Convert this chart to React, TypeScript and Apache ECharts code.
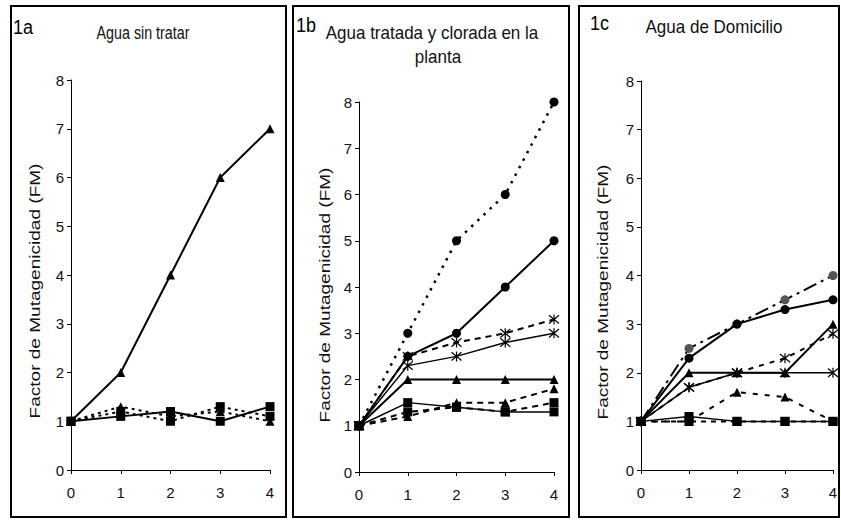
import React, { useEffect, useRef } from "react";
import * as echarts from "echarts";

// x categories (time points)
const X = [0, 1, 2, 3, 4];
const Y_TICKS = [0, 1, 2, 3, 4, 5, 6, 7, 8];

// Panel 1a: Agua sin tratar
const a_triSolid = [1, 2, 4, 6, 7];
const a_sqSolid = [1, 1.1, 1.2, 1.0, 1.3];
const a_sqDashed = [1, 1.2, 1.0, 1.3, 1.1];
const a_triDashed = [1, 1.3, 1.1, 1.2, 1.0];

// Panel 1b: Agua tratada y clorada en la planta
const b_circDotted = [1, 3, 5, 6, 8];
const b_circSolid = [1, 2.5, 3, 4, 5];
const b_astDashed = [1, 2.5, 2.8, 3.0, 3.3];
const b_astSolid = [1, 2.3, 2.5, 2.8, 3.0];
const b_triSolid = [1, 2, 2, 2, 2];
const b_triDashed = [1, 1.2, 1.5, 1.5, 1.8];
const b_sqSolid = [1, 1.5, 1.4, 1.3, 1.3];
const b_sqDashed = [1, 1.3, 1.4, 1.3, 1.5];

// Panel 1c: Agua de Domicilio
const c_circDashDot = [1, 2.5, 3, 3.5, 4];
const c_circSolid = [1, 2.3, 3, 3.3, 3.5];
const c_triSolid = [1, 2, 2, 2, 3];
const c_astSolid = [1, 1.7, 2, 2, 2];
const c_astDashed = [1, 1.7, 2, 2.3, 2.8];
const c_triDashed = [1, 1.0, 1.6, 1.5, 1.0];
const c_sqSolid = [1, 1.1, 1.0, 1.0, 1.0];
const c_sqDashed = [1, 1.0, 1.0, 1.0, 1.0];

const PANEL_LABELS = ["1a", "1b", "1c"];
const TITLES = ["Agua sin tratar", "Agua tratada y clorada en la", "planta", "Agua de Domicilio"];
const Y_NAME = "Factor de Mutagenicidad (FM)";

const FONT = "Arial, 'Liberation Sans', Helvetica, sans-serif";
const AST = "path://M0,0L10,10M10,0L0,10M5,-1L5,11";
const TXT = "#111";

type Mk = "tri" | "sq" | "circ" | "ast";

function series(
  grid: number,
  values: number[],
  mk: Mk,
  dash: any,
  opts: { width?: number; markerColor?: string; z?: number } = {}
) {
  const symbol = mk === "tri" ? "triangle" : mk === "sq" ? "rect" : mk === "circ" ? "circle" : AST;
  const size = mk === "tri" ? 9 : mk === "sq" ? 9 : mk === "circ" ? 9 : 10;
  const mc = opts.markerColor || "#000";
  return {
    type: "line",
    xAxisIndex: grid,
    yAxisIndex: grid,
    data: X.map((x, i) => [x, values[i]]),
    symbol,
    symbolSize: size,
    showAllSymbol: true,
    z: opts.z ?? 2,
    lineStyle: {
      color: "#000",
      width: opts.width ?? 2,
      type: dash,
    },
    itemStyle: {
      color: mc,
      borderColor: mk === "ast" ? "#000" : mc,
      borderWidth: mk === "ast" ? 1.2 : 0,
      opacity: 1,
    },
    emphasis: { disabled: true },
  };
}

export default function App() {
  const ref = useRef<HTMLDivElement>(null);
  useEffect(() => {
    if (!ref.current) return;
    const chart = echarts.init(ref.current, undefined, { renderer: "svg" });

    const grids = [
      { left: 71, top: 80, width: 199, height: 390 },
      { left: 359, top: 102, width: 195, height: 370 },
      { left: 641, top: 81, width: 192, height: 389 },
    ];

    const xAxes = grids.map((_, i) => ({
      type: "value",
      gridIndex: i,
      min: 0,
      max: 4,
      interval: 1,
      splitLine: { show: false },
      axisLine: { show: true, onZero: false, lineStyle: { color: "#000", width: 1 } },
      axisTick: { show: true, length: 4, lineStyle: { color: "#000" } },
      axisLabel: { color: TXT, fontSize: 15, fontFamily: FONT, margin: 15 },
    }));
    const yAxes = grids.map((_, i) => ({
      type: "value",
      gridIndex: i,
      min: Y_TICKS[0],
      max: Y_TICKS[Y_TICKS.length - 1],
      interval: 1,
      splitLine: { show: false },
      axisLine: { show: true, onZero: false, lineStyle: { color: "#000", width: 1 } },
      axisTick: { show: true, length: 4, lineStyle: { color: "#000" } },
      axisLabel: { color: TXT, fontSize: 15, fontFamily: FONT, margin: 7 },
    }));

    const dashShort = [3, 4];
    const dashMed = [6, 5];
    const dotted = [2.5, 6];

    const allSeries = [
      // 1a
      series(0, a_triDashed, "tri", dashShort),
      series(0, a_sqDashed, "sq", dashShort),
      series(0, a_sqSolid, "sq", "solid", { z: 3 }),
      series(0, a_triSolid, "tri", "solid", { z: 3 }),
      // 1b
      series(1, b_circDotted, "circ", dotted, { width: 2.5 }),
      series(1, b_circSolid, "circ", "solid", { z: 3 }),
      series(1, b_astDashed, "ast", dashMed),
      series(1, b_astSolid, "ast", "solid", { width: 1.5, z: 3 }),
      series(1, b_triSolid, "tri", "solid", { z: 3 }),
      series(1, b_triDashed, "tri", dashMed),
      series(1, b_sqDashed, "sq", dashMed),
      series(1, b_sqSolid, "sq", "solid", { width: 1.5, z: 3 }),
      // 1c
      series(2, c_circDashDot, "circ", [14, 5, 3, 5], { markerColor: "#555" }),
      series(2, c_circSolid, "circ", "solid", { z: 3 }),
      series(2, c_triSolid, "tri", "solid", { z: 3 }),
      series(2, c_astDashed, "ast", [5, 6]),
      series(2, c_astSolid, "ast", "solid", { width: 1.5, z: 3 }),
      series(2, c_triDashed, "tri", [5, 7]),
      series(2, c_sqDashed, "sq", [5, 5]),
      series(2, c_sqSolid, "sq", "solid", { width: 1.5, z: 3 }),
    ];

    const panelRects = [
      { x: 11, y: 6, w: 275, h: 511 },
      { x: 293, y: 6, w: 276, h: 511 },
      { x: 579, y: 6, w: 260, h: 511 },
    ];

    const yNamePos = [
      { x: 35, y: 291 },
      { x: 325, y: 295 },
      { x: 603, y: 292 },
    ];
    const labelPos = [
      { x: 13, y: 27 },
      { x: 296, y: 25 },
      { x: 590, y: 23 },
    ];

    const graphic: any[] = [];
    panelRects.forEach((r) =>
      graphic.push({
        type: "rect",
        silent: true,
        shape: { x: r.x, y: r.y, width: r.w, height: r.h },
        style: { fill: "none", stroke: "#000", lineWidth: 2 },
        z: 10,
      })
    );
    PANEL_LABELS.forEach((t, i) =>
      graphic.push({
        type: "text",
        silent: true,
        x: labelPos[i].x,
        y: labelPos[i].y,
        scaleY: 1.1,
        style: {
          text: t,
          fontSize: 18,
          fontFamily: FONT,
          fill: "#000",
          textAlign: "left",
          textVerticalAlign: "middle",
        },
      })
    );
    const titleDefs = [
      { t: TITLES[0], x: 143, y: 33, fs: 17, sx: 0.84, sy: 1.1 },
      { t: TITLES[1], x: 432, y: 33, fs: 17, sx: 1, sy: 1.1 },
      { t: TITLES[2], x: 438, y: 57, fs: 17, sx: 1, sy: 1.1 },
      { t: TITLES[3], x: 714, y: 27, fs: 17, sx: 1, sy: 1.1 },
    ];
    titleDefs.forEach((d) =>
      graphic.push({
        type: "text",
        silent: true,
        x: d.x,
        y: d.y,
        scaleX: d.sx,
        scaleY: d.sy,
        style: {
          text: d.t,
          fontSize: d.fs,
          fontFamily: FONT,
          fill: TXT,
          textAlign: "center",
          textVerticalAlign: "middle",
        },
      })
    );
    yNamePos.forEach((p) =>
      graphic.push({
        type: "text",
        silent: true,
        x: p.x,
        y: p.y,
        rotation: Math.PI / 2,
        scaleX: 1.36,
        style: {
          text: Y_NAME,
          fontSize: 14,
          fontFamily: FONT,
          fill: TXT,
          textAlign: "center",
          textVerticalAlign: "middle",
        },
      })
    );

    chart.setOption({
      animation: false,
      backgroundColor: "#fff",
      grid: grids,
      xAxis: xAxes,
      yAxis: yAxes,
      series: allSeries,
      graphic,
    });
    return () => chart.dispose();
  }, []);

  return (
    <div
      ref={ref}
      style={{ position: "fixed", left: 0, top: 0, width: 841, height: 520 }}
    />
  );
}
